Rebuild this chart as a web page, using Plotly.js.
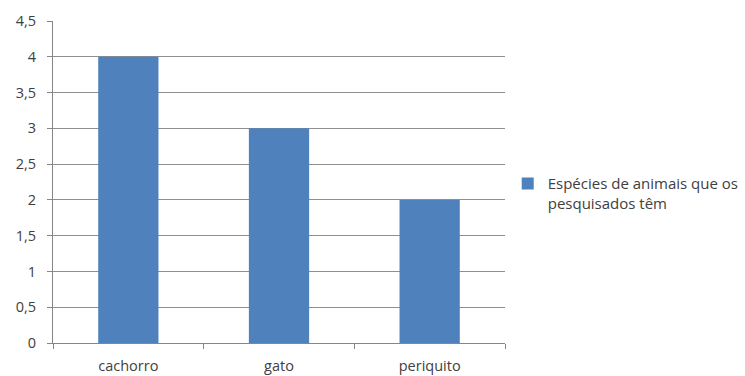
<!DOCTYPE html>
<html>
<head>
<meta charset="utf-8">
<script src="https://cdn.plot.ly/plotly-3.0.1.min.js"></script>
<style>html,body{margin:0;padding:0;background:#fff;}#chart{width:745px;height:376px;}</style>
</head>
<body>
<div id="chart"></div>
<script>
const categories = ["cachorro", "gato", "periquito"];
const values = [4, 3, 2];
const seriesName = "Espécies de animais que os<br>pesquisados têm";

const fontFam = "'Open Sans', 'Liberation Sans', sans-serif";
const data = [{
  type: "bar",
  x: categories,
  y: values,
  name: seriesName,
  marker: {color: "#4F81BD"},
  showlegend: true
}];
const layout = {
  width: 745, height: 376,
  margin: {l: 53, r: 240, t: 21, b: 33, autoexpand: false},
  paper_bgcolor: "#ffffff",
  plot_bgcolor: "#ffffff",
  separators: ",.",
  bargap: 0.6,
  font: {family: fontFam, size: 14.5, color: "#404040"},
  xaxis: {
    type: "category",
    tickson: "boundaries",
    ticks: "outside",
    ticklen: 5,
    tickcolor: "#868686",
    showline: true,
    linecolor: "#868686",
    linewidth: 1,
    showgrid: false,
    zeroline: false,
    ticklabelstandoff: 10,
    tickfont: {family: fontFam, size: 14.5, color: "#404040"}
  },
  yaxis: {
    range: [0, 4.5],
    dtick: 0.5,
    tick0: 0,
    ticks: "outside",
    ticklen: 5,
    tickcolor: "#868686",
    showline: true,
    linecolor: "#868686",
    linewidth: 1,
    showgrid: true,
    gridcolor: "#8f8f8f",
    gridwidth: 1,
    zeroline: false,
    ticklabelstandoff: 8,
    tickfont: {family: fontFam, size: 14.5, color: "#404040"}
  },
  legend: {
    x: 1.006, xanchor: "left",
    y: 0.465, yanchor: "middle",
    valign: "top",
    itemwidth: 30,
    font: {family: fontFam, size: 15, color: "#404040"},
    bgcolor: "rgba(0,0,0,0)"
  }
};
Plotly.newPlot("chart", data, layout, {displayModeBar: false, staticPlot: true});
</script>
</body>
</html>
